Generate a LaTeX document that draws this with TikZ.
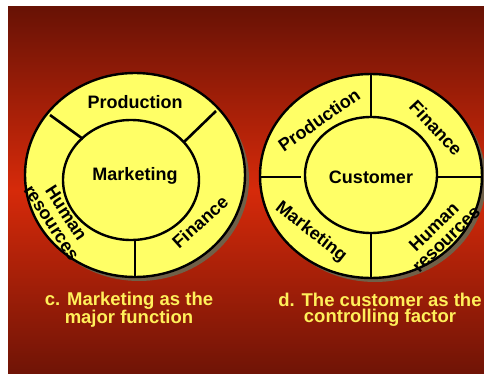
\documentclass[tikz,border=0pt]{standalone}
\usepackage{fontspec}
\setmainfont{Liberation Sans}
\definecolor{bgdark}{RGB}{104,18,5}
\definecolor{bgmid}{RGB}{214,42,10}
\definecolor{bgbot}{RGB}{112,20,6}
\definecolor{pale}{RGB}{255,255,102}
\definecolor{shadowc}{RGB}{112,96,72}
\definecolor{captc}{RGB}{255,240,90}
\tikzset{
  ring/.style={draw=black, line width=2.4pt, fill=pale},
  shadowring/.style={fill=shadowc},
  divider/.style={draw=black, line width=2.6pt},
  lbl/.style={font=\fontsize{18}{17.5}\selectfont\bfseries, inner sep=0pt, align=center, text=black},
  capt/.style={font=\fontsize{18.5}{16.5}\selectfont\bfseries, inner sep=0pt, align=center, text=captc}
}
\begin{document}
\begin{tikzpicture}[x=1pt,y=1pt]
\useasboundingbox (0,0) rectangle (484,373);
\fill[white] (0,0) rectangle (484,373);
\shade[top color=bgdark, bottom color=bgbot, middle color=bgmid] (8,0) rectangle (484,366);

% ---------- left diagram ----------
\fill[shadowring] (139,194) ellipse [x radius=110, y radius=102];
\path[ring] (135,198) ellipse [x radius=110, y radius=102];
\path[ring] (131,193) ellipse [x radius=68, y radius=60];
\coordinate (L1o) at (50,258);
\coordinate (L1i) at (83,234);
\coordinate (L2o) at (216,262);
\coordinate (L2i) at (184,231);
\coordinate (L3i) at (135,133);
\coordinate (L3o) at (135,96);
\draw[divider] (L1o) -- (L1i);
\draw[divider] (L2o) -- (L2i);
\draw[divider] (L3i) -- (L3o);
\node[lbl] (lprod) at (135,271) {Production};
\node[lbl] (lmark) at (135,197) {Marketing};
\node[lbl, rotate=42] (lfin) at (200,151) {Finance};
\node[lbl, rotate=-57] (lhum) at (59,155) {Human\\resources};

% ---------- right diagram ----------
\fill[shadowring] (375,193) ellipse [x radius=111, y radius=102];
\path[ring] (371,197) ellipse [x radius=111, y radius=102];
\path[ring] (371,198) ellipse [x radius=66, y radius=58];
\coordinate (R1i) at (371,256);
\coordinate (R1o) at (371,299);
\coordinate (R2i) at (371,140);
\coordinate (R2o) at (371,95);
\coordinate (R3o) at (260,196);
\coordinate (R3i) at (301,196);
\coordinate (R4i) at (437,196);
\coordinate (R4o) at (482,196);
\draw[divider] (R1i) -- (R1o);
\draw[divider] (R2i) -- (R2o);
\draw[divider] (R3o) -- (R3i);
\draw[divider] (R4i) -- (R4o);
\node[lbl, rotate=35] (rprod) at (319,253) {Production};
\node[lbl, rotate=-47] (rfin) at (436,245) {Finance};
\node[lbl] (rcust) at (371,196) {Customer};
\node[lbl, rotate=-38] (rmark) at (311,141) {Marketing};
\node[lbl, rotate=44] (rhum) at (440,140) {Human\\resources};

% ---------- captions ----------
\node[capt] (capc) at (129,63) {c. Marketing as the\\major function};
\node[capt] (capd) at (380,63) {d. The customer as the\\controlling factor};
\end{tikzpicture}
\end{document}
